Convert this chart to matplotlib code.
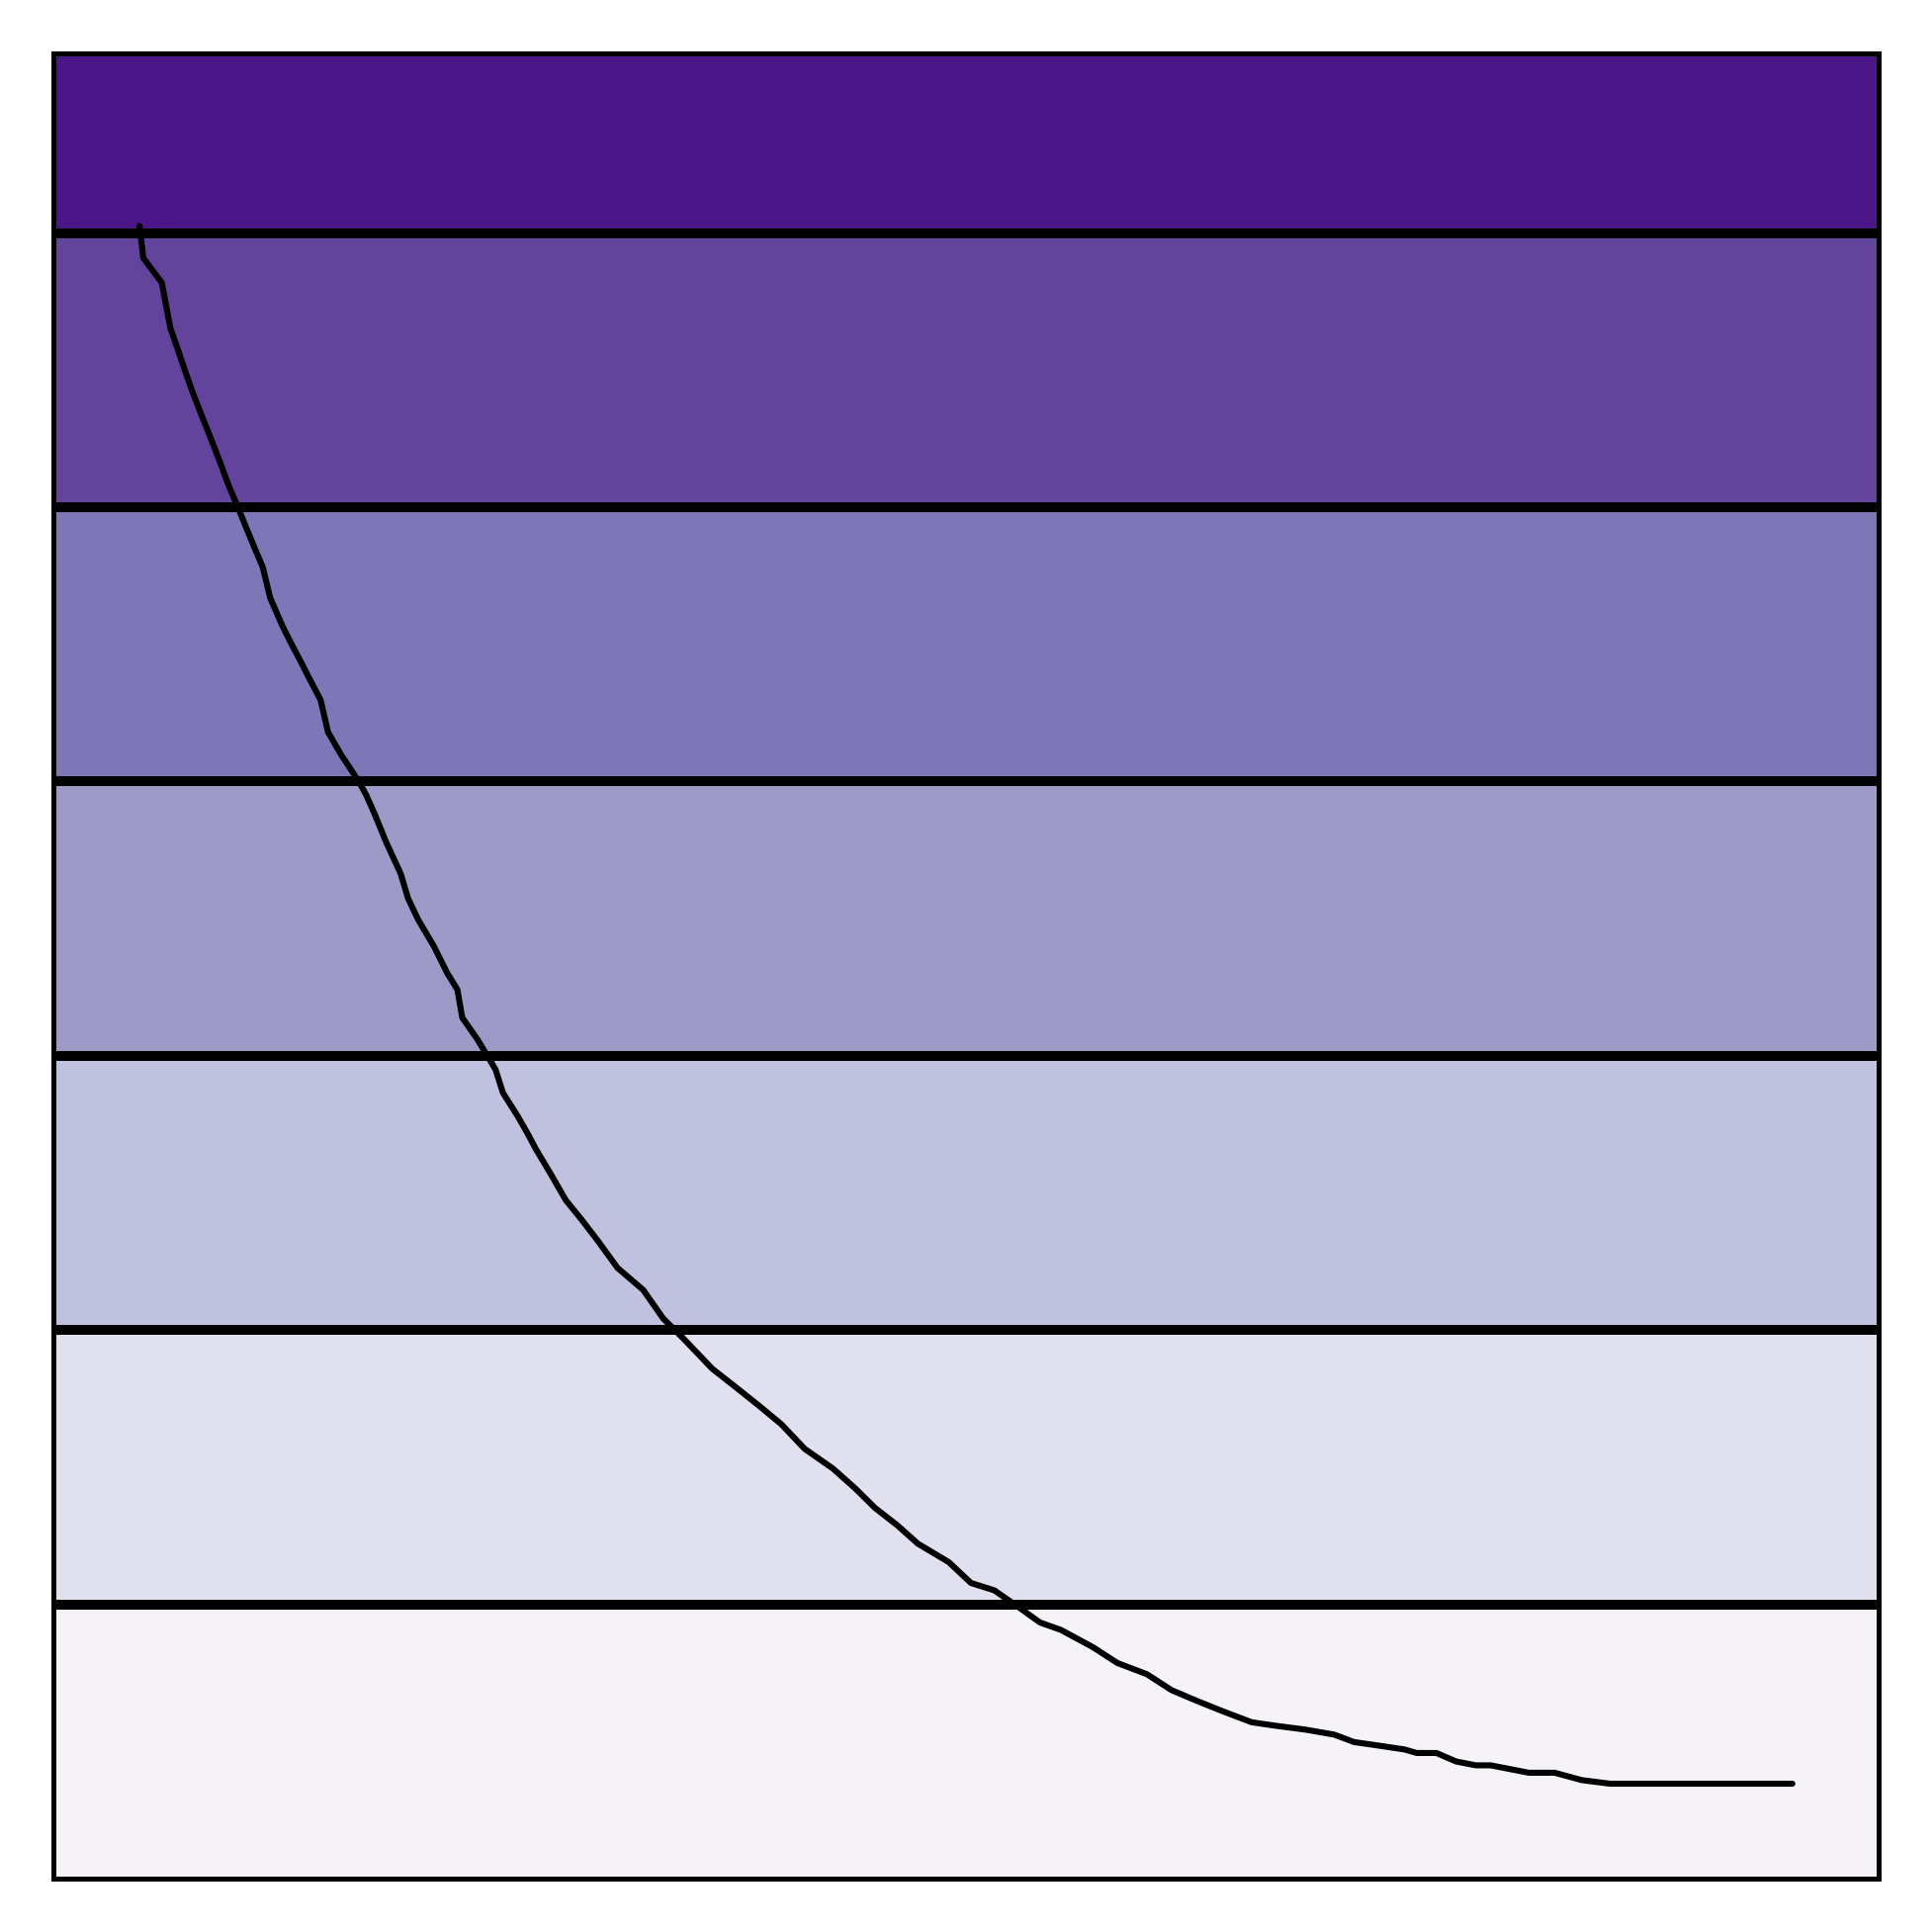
import numpy as np
import matplotlib
matplotlib.use("Agg")
import matplotlib.pyplot as plt

# band levels (one unit per band, top band only partly visible)
band_bottoms = [0, 1, 2, 3, 4, 5, 6]
band_shades = [1/14, 3/14, 5/14, 7/14, 9/14, 11/14, 13/14]
y_top = 6.655

# curve values
curve_x = [70, 73, 88, 91, 95, 102, 107, 113, 120, 128, 135, 142, 150, 157, 164,
           170, 176, 186, 193, 200, 207, 217, 223, 234, 242, 249, 254, 261, 270,
           282, 288, 296, 309, 320, 328, 332, 344, 353, 359, 365, 377, 385, 392,
           404, 416, 429, 442, 458, 479, 495, 512, 535, 554, 573, 591, 610, 633,
           651, 667, 685, 702, 727, 745, 764, 783, 801, 818, 844, 864, 888, 908,
           929, 949, 973, 993, 1017, 1040, 1056, 1076, 1097, 1107, 1123, 1139,
           1155, 1167, 1198, 1219, 1241, 1264, 1412]
curve_y = [6.026, 5.909, 5.819, 5.748, 5.653, 5.563, 5.496, 5.420, 5.339, 5.249,
           5.168, 5.083, 4.998, 4.921, 4.845, 4.782, 4.670, 4.567, 4.504, 4.445,
           4.383, 4.297, 4.180, 4.095, 4.041, 3.992, 3.951, 3.880, 3.781, 3.664,
           3.574, 3.498, 3.399, 3.300, 3.242, 3.139, 3.062, 2.995, 2.950, 2.865,
           2.780, 2.717, 2.658, 2.568, 2.474, 2.402, 2.326, 2.227, 2.146, 2.043,
           1.967, 1.859, 1.792, 1.724, 1.657, 1.567, 1.495, 1.423, 1.352, 1.289,
           1.221, 1.154, 1.078, 1.051, 0.992, 0.934, 0.907, 0.844, 0.786, 0.745,
           0.687, 0.647, 0.611, 0.570, 0.557, 0.543, 0.525, 0.498, 0.485, 0.471,
           0.458, 0.458, 0.427, 0.413, 0.413, 0.386, 0.386, 0.359, 0.346, 0.346]
x_max = 1482

fig = plt.figure(figsize=(9.77, 9.77), dpi=200)
ax = fig.add_axes([54 / 1954, 54 / 1954, 1846 / 1954, 1846 / 1954])

cmap = plt.get_cmap("Purples")
for b, s in zip(band_bottoms, band_shades):
    ax.axhspan(b, b + 1, color=cmap(s), lw=0, zorder=0)
for b in band_bottoms[1:]:
    ax.axhline(b, color="black", lw=3.6, zorder=1)

ax.plot(curve_x, curve_y, color="black", lw=2.2, solid_capstyle="round", zorder=3)

ax.set_xlim(0, x_max)
ax.set_ylim(0, y_top)
ax.set_xticks([])
ax.set_yticks([])
for sp in ax.spines.values():
    sp.set_linewidth(1.8)
    sp.set_zorder(4)

fig.savefig("out.png", dpi=200)
